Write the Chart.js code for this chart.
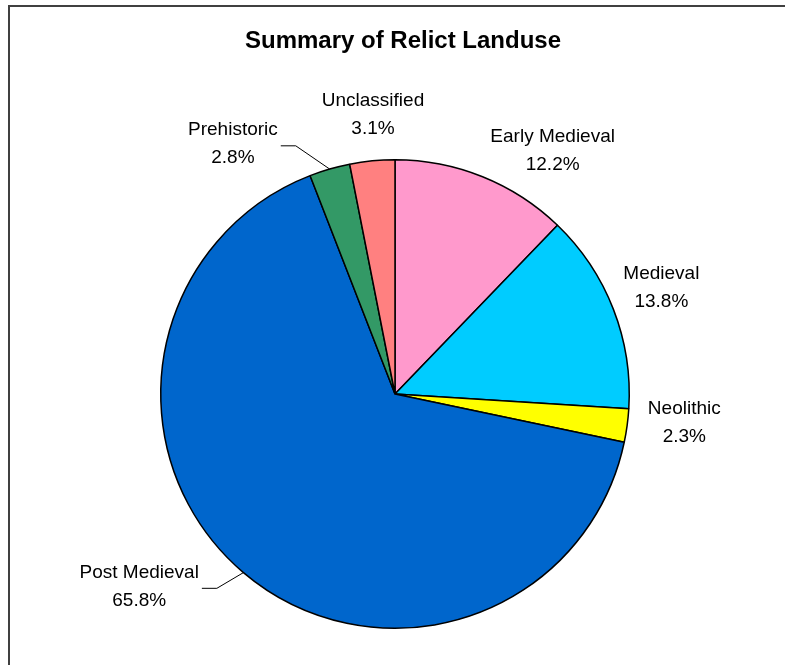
<!DOCTYPE html>
<html>
<head>
<meta charset="utf-8">
<script src="https://cdn.jsdelivr.net/npm/chart.js@4.4.0/dist/chart.umd.min.js"></script>
<style>
  html, body { margin: 0; padding: 0; background: #fff; }
  #wrap { width: 785px; height: 665px; }
</style>
</head>
<body>
<div id="wrap"><canvas id="landuseChart" width="785" height="665"></canvas></div>
<script>
// Summary of Relict Landuse - pie, slices clockwise from 12 o'clock
const categories = ['Early Medieval', 'Medieval', 'Neolithic', 'Post Medieval', 'Prehistoric', 'Unclassified'];
const shares = [12.2, 13.8, 2.3, 65.8, 2.8, 3.1];
const sliceColors = ['#FF99CC', '#00CCFF', '#FFFF00', '#0066CC', '#339966', '#FF8080'];

// label centre relative to pie centre, in units of the radius; leader = draw a connector
const labelPlacement = [
    { dx: 0.673, dy: -1.038, leader: false },
    { dx: 1.137, dy: -0.453, leader: false },
    { dx: 1.235, dy: 0.124, leader: false },
    { dx: -1.092, dy: 0.821, leader: true },
    { dx: -0.692, dy: -1.068, leader: true },
    { dx: -0.094, dy: -1.192, leader: false }
];

const labelFont = '19px "Liberation Sans", Arial, sans-serif';
const lineGap = 28;

// frame, title and the outside data labels
const decorPlugin = {
    id: 'decor',
    beforeDraw(chart) {
        const ctx = chart.ctx;
        ctx.save();
        ctx.strokeStyle = '#404040';
        ctx.lineWidth = 2;
        ctx.beginPath();
        ctx.moveTo(9, chart.height);
        ctx.lineTo(9, 6);
        ctx.lineTo(chart.width, 6);
        ctx.stroke();

        ctx.fillStyle = '#000';
        ctx.font = 'bold 24px "Liberation Sans", Arial, sans-serif';
        ctx.textAlign = 'center';
        ctx.textBaseline = 'middle';
        ctx.fillText('Summary of Relict Landuse', 403, 41);
        ctx.restore();
    },
    afterDraw(chart) {
        const ctx = chart.ctx;
        const meta = chart.getDatasetMeta(0);
        const total = shares.reduce((a, b) => a + b, 0);
        ctx.save();
        ctx.font = labelFont;
        ctx.fillStyle = '#000';
        ctx.textAlign = 'center';
        ctx.textBaseline = 'middle';
        meta.data.forEach((arc, i) => {
            const p = arc.getProps(['x', 'y', 'startAngle', 'endAngle', 'outerRadius'], true);
            const r = p.outerRadius;
            const cx = p.x + labelPlacement[i].dx * r;
            const cy = p.y + labelPlacement[i].dy * r;
            const pct = (shares[i] / total * 100).toFixed(1) + '%';
            ctx.fillText(categories[i], cx, cy - lineGap / 2);
            ctx.fillText(pct, cx, cy + lineGap / 2);

            if (labelPlacement[i].leader) {
                const w = ctx.measureText(categories[i]).width;
                const mid = (p.startAngle + p.endAngle) / 2;
                const ex = p.x + Math.cos(mid) * r;
                const ey = p.y + Math.sin(mid) * r;
                const sx = cx + w / 2 + 3;
                const sy = cy + 2;
                ctx.strokeStyle = '#000';
                ctx.lineWidth = 1;
                ctx.beginPath();
                ctx.moveTo(sx, sy);
                ctx.lineTo(sx + 15, sy);
                ctx.lineTo(ex, ey);
                ctx.stroke();
            }
        });
        ctx.restore();
    }
};

const ctxPie = document.getElementById('landuseChart').getContext('2d');
new Chart(ctxPie, {
    type: 'pie',
    data: {
        labels: categories,
        datasets: [{
            data: shares,
            backgroundColor: sliceColors,
            borderColor: '#000',
            borderWidth: 1.5
        }]
    },
    options: {
        responsive: false,
        animation: false,
        layout: {
            padding: { top: 159, bottom: 36, left: 160, right: 155 }
        },
        plugins: {
            legend: { display: false },
            tooltip: { enabled: false },
            title: { display: false }
        }
    },
    plugins: [decorPlugin]
});
</script>
</body>
</html>
